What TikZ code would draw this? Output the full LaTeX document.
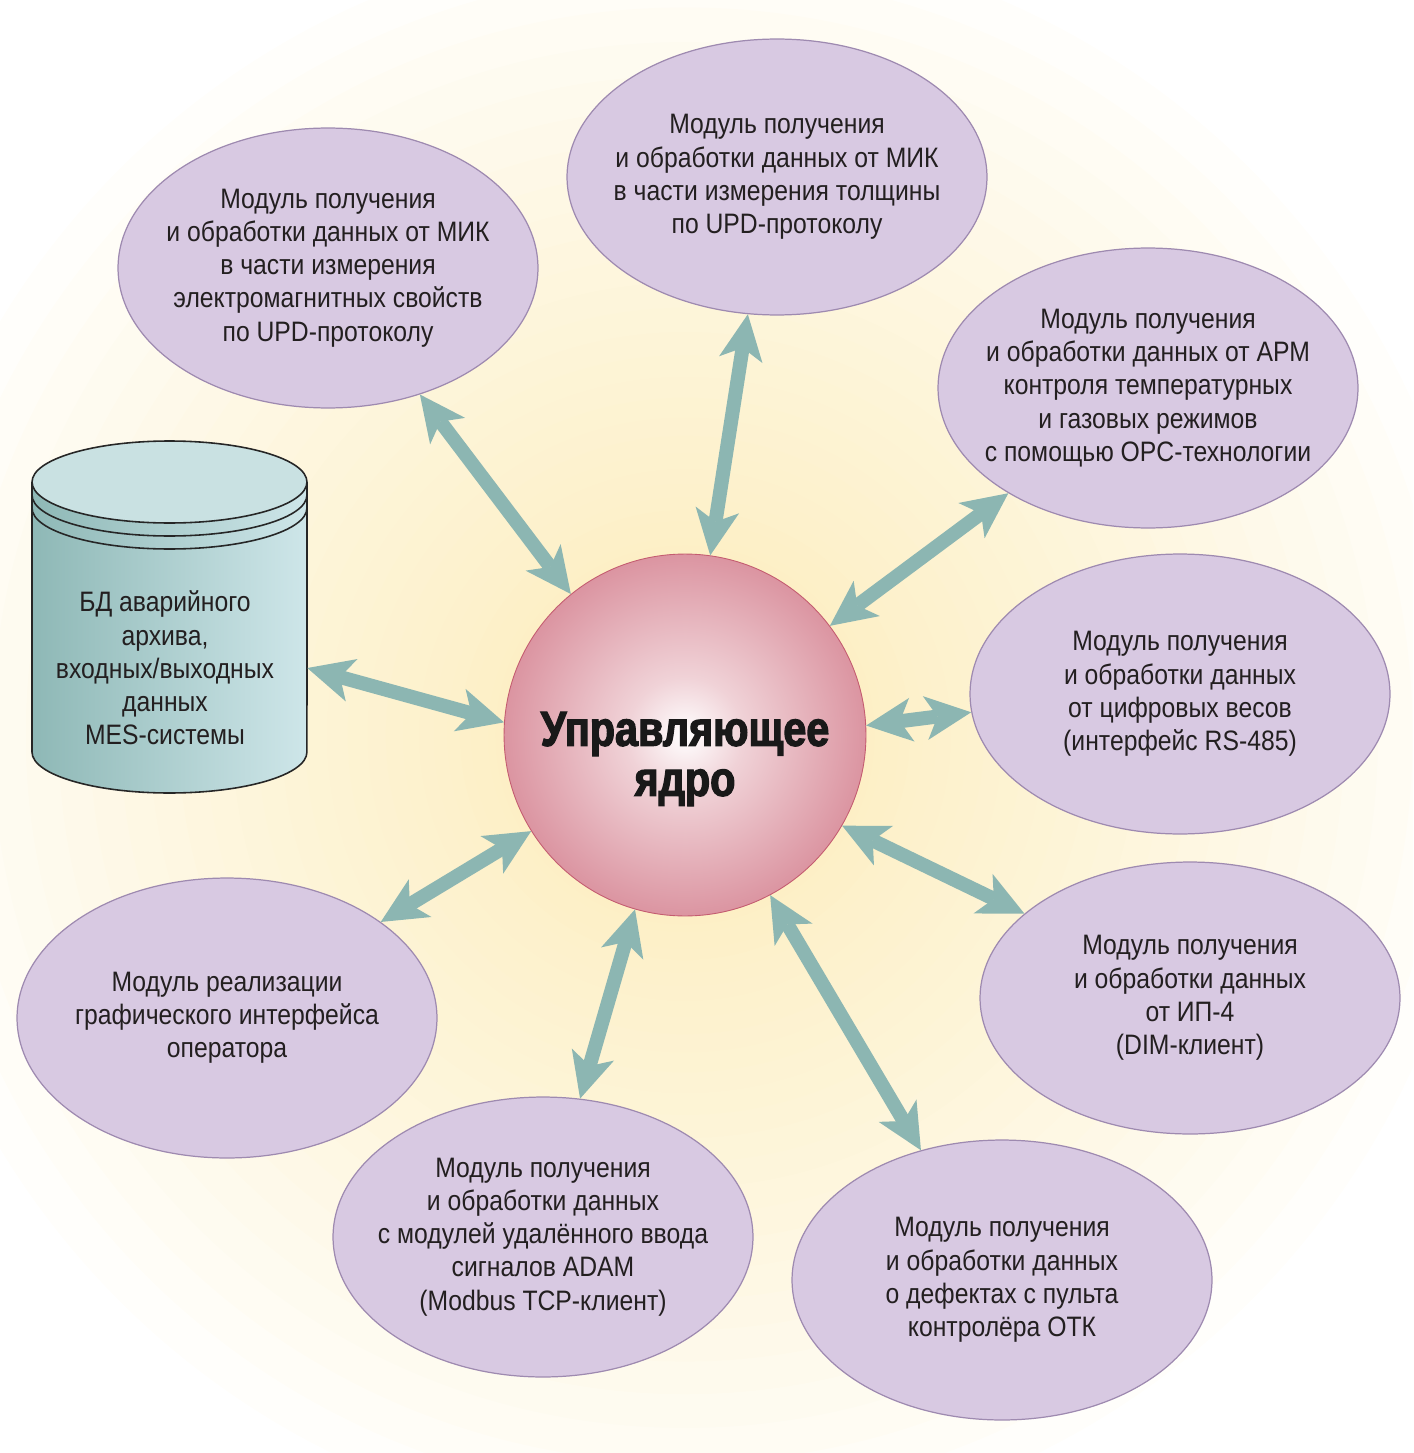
\documentclass[tikz,border=0pt]{standalone}
\usepackage{fontspec}
\setmainfont{Liberation Sans}[FakeStretch=0.88]
\newfontfamily\corefont{Liberation Sans}[FakeStretch=0.84,FakeBold=2.5]
\usetikzlibrary{arrows.meta,shapes.geometric}

\definecolor{ink}{RGB}{35,31,32}
\definecolor{glowc}{RGB}{252,236,185}
\definecolor{modfill}{RGB}{216,201,226}
\definecolor{modline}{RGB}{158,138,176}
\definecolor{linkc}{RGB}{140,182,178}
\definecolor{ballA}{RGB}{240,210,215}
\definecolor{ballB}{RGB}{218,145,158}
\definecolor{ballC}{RGB}{196,92,112}
\definecolor{dbdark}{RGB}{142,184,182}
\definecolor{dblight}{RGB}{206,230,233}
\definecolor{dbcap}{RGB}{201,225,226}

\pgfdeclareradialshading{coreball}{\pgfpoint{0bp}{0bp}}{color(0bp)=(white); color(8bp)=(ballA); color(26bp)=(ballB); color(50bp)=(ballC)}

\begin{document}
\begin{tikzpicture}[x=0.02cm,y=-0.02cm,
	mod/.style={ellipse,draw=modline,line width=0.7pt,fill=modfill,minimum width=8.4cm,minimum height=5.6cm,inner sep=-1cm,align=center,text=ink,font=\fontsize{16}{18.9}\selectfont},
	link/.style={draw=linkc,line width=0.28cm,<->,>={Stealth[length=0.92cm,width=0.88cm,inset=0.24cm,line width=0pt]}},
	dbline/.style={draw=black!85,line width=0.9pt}]
	\useasboundingbox (0,0) rectangle (1413,1453);
	\begin{scope}
		\clip (0,0) rectangle (1413,1453);
		\foreach \i in {1,...,30} {
			\pgfmathsetmacro\r{180+620*(\i/30)^1.8}
			\fill[glowc,opacity=0.06] (685,735) circle (\r);
		}
	\end{scope}

	\fill[left color=dbdark,right color=dblight] (32,482) -- (32,752) arc[start angle=180,end angle=360,x radius=2.75cm,y radius=0.82cm] -- (307,482) -- cycle;
	\foreach \y in {495,508} \draw[dbline] (32,\y) arc[start angle=180,end angle=360,x radius=2.75cm,y radius=0.82cm];
	\draw[dbline] (32,482) -- (32,752) arc[start angle=180,end angle=360,x radius=2.75cm,y radius=0.82cm] -- (307,482);
	\draw[dbline,fill=dbcap] (169.5,482) ellipse[x radius=2.75cm,y radius=0.82cm];
	\node[align=center,text=ink,font=\fontsize{16}{18.9}\selectfont,minimum width=5.68cm,inner sep=0pt] (db) at (165,668) {БД аварийного\\архива,\\входных/выходных\\данных\\MES-системы};

	\node[mod] (mikE) at (328,268) {Модуль получения\\и обработки данных от МИК\\в части измерения\\электромагнитных свойств\\по UPD-протоколу};
	\node[mod,minimum height=5.52cm] (mikT) at (777,177) {Модуль получения\\и обработки данных от МИК\\в части измерения толщины\\по UPD-протоколу};
	\node[mod] (arm) at (1148,388) {Модуль получения\\и обработки данных от АРМ\\контроля температурных\\и газовых режимов\\с помощью OPC-технологии};
	\node[mod] (scale) at (1180,694) {Модуль получения\\и обработки данных\\от цифровых весов\\(интерфейс RS-485)};
	\node[mod,minimum height=5.44cm] (ip) at (1190,998) {Модуль получения\\и обработки данных\\от ИП-4\\(DIM-клиент)};
	\node[mod] (otk) at (1002,1280) {Модуль получения\\и обработки данных\\о дефектах с пульта\\контролёра ОТК};
	\node[mod] (adam) at (543,1237) {Модуль получения\\и обработки данных\\с модулей удалённого ввода\\сигналов ADAM\\(Modbus TCP-клиент)};
	\node[mod] (gui) at (227,1018) {Модуль реализации\\графического интерфейса\\оператора};

	\node[circle,shade,shading=coreball,draw=ballC,line width=0.5pt,minimum size=7.24cm,inner sep=0pt] (core) at (685,735) {};
	\node[align=center,text=black!90,font=\corefont\bfseries\fontsize{28}{28.5}\selectfont] (coretext) at (685,759) {Управляющее\\ядро};

	\draw[link] (mikE.-54) -- (core.129);
	\draw[link] (mikT.-102) -- (core.82);
	\draw[link] (arm.-143) -- (core.37);
	\draw[link] (scale.185) -- (core.3);
	\draw[link] (ip.153) -- (core.-30);
	\draw[link] (otk.122) -- (core.-62);
	\draw[link] (adam.75) -- (core.-106);
	\draw[link] (gui.32) -- (core.-148);
	\draw[link] (db.east) -- (core.176);
\end{tikzpicture}
\end{document}
